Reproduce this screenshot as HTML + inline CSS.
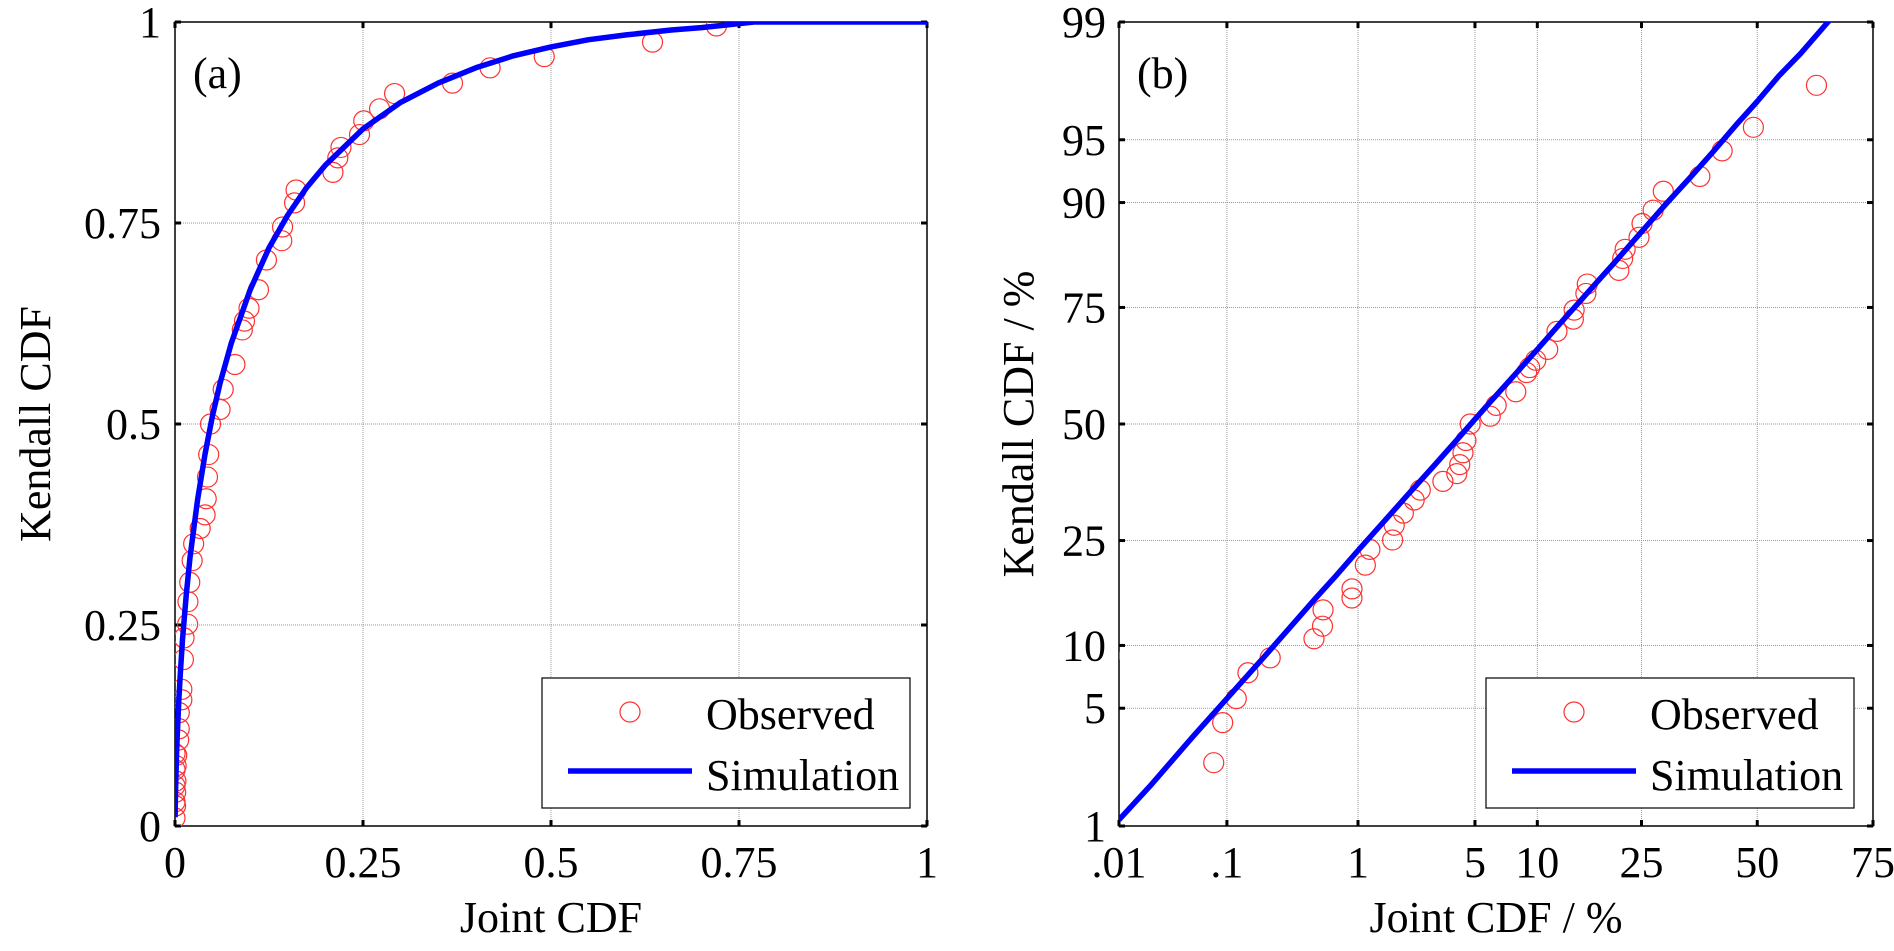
<!DOCTYPE html>
<html><head><meta charset="utf-8"><style>
html,body{margin:0;padding:0;background:#fff}
svg{display:block;font-family:"Liberation Serif",serif}
</style></head><body>
<svg id="fig" width="1894" height="951" viewBox="0 0 1894 951" xmlns="http://www.w3.org/2000/svg">
<defs>
<clipPath id="clipA"><rect x="175" y="22" width="752" height="804"/></clipPath>
<clipPath id="clipB"><rect x="1119" y="22" width="754" height="804"/></clipPath>
</defs>
</svg>
<script>
// Observed points: joint CDF (fraction) and Kendall CDF (fraction)
const obsJoint = [0.00001,0.00002,0.00003,0.00005,0.00008,0.00077,0.00092,0.0012,0.0015,0.00227,0.0049,0.00565,0.0057,0.0091,0.0091,0.0112,0.012,0.0168,0.0172,0.0196,0.0228,0.0248,0.0335,0.040,0.0415,0.0432,0.0448,0.0472,0.0599,0.0641,0.0797,0.0895,0.0924,0.0984,0.111,0.1216,0.142,0.143,0.159,0.161,0.210,0.2165,0.2207,0.2454,0.251,0.272,0.292,0.369,0.419,0.491,0.635,0.72];
const obsKendall = [0.01,0.03,0.05,0.07,0.09,0.025,0.042,0.056,0.075,0.088,0.107,0.121,0.141,0.157,0.17,0.207,0.234,0.251,0.279,0.303,0.33,0.351,0.37,0.387,0.407,0.434,0.462,0.5,0.518,0.543,0.574,0.617,0.628,0.644,0.667,0.704,0.728,0.745,0.775,0.791,0.813,0.831,0.844,0.86,0.877,0.892,0.911,0.924,0.943,0.957,0.975,0.995];
// Simulation curve
const simJoint = [0.0001,0.0002,0.0005,0.001,0.002,0.003,0.005,0.007,0.01,0.015,0.02,0.03,0.04,0.05,0.06,0.075,0.1,0.125,0.15,0.175,0.2,0.25,0.3,0.35,0.4,0.45,0.5,0.55,0.6,0.66,0.7,0.77,1.0];
const simKendall = [0.011,0.018,0.035,0.056,0.088,0.114,0.156,0.189,0.232,0.288,0.334,0.406,0.463,0.511,0.551,0.601,0.667,0.719,0.760,0.794,0.822,0.867,0.900,0.924,0.943,0.958,0.969,0.978,0.984,0.990,0.993,1.0,1.0];
// Tick labels
const aTicks = [0,0.25,0.5,0.75,1];
const aTickLabels = ["0","0.25","0.5","0.75","1"];
const bxTicks = [0.0001,0.001,0.01,0.05,0.1,0.25,0.5,0.75];
const bxTickLabels = [".01",".1","1","5","10","25","50","75"];
const byTicks = [0.01,0.05,0.1,0.25,0.5,0.75,0.9,0.95,0.99];
const byTickLabels = ["1","5","10","25","50","75","90","95","99"];

const NS="http://www.w3.org/2000/svg";
const svg=document.getElementById('fig');
function mk(tag,attrs,parent){const e=document.createElementNS(NS,tag);for(const k in attrs)e.setAttribute(k,attrs[k]);(parent||svg).appendChild(e);return e;}
function norminv(p){
 const a=[-39.69683028665376,220.9460984245205,-275.9285104469687,138.3577518672690,-30.66479806614716,2.506628277459239];
 const b=[-54.47609879822406,161.5858368580409,-155.6989798598866,66.80131188771720,-13.28068155288572];
 const c=[-0.007784894002430293,-0.3223964580411365,-2.400758277161838,-2.549732539343734,4.374664141464968,2.938163982698783];
 const d=[0.007784695709041462,0.3224671290700398,2.445134137142996,3.754408661907416];
 if(p<=0)return -Infinity; if(p>=1)return Infinity;
 const pl=0.02425;let q,r;
 if(p<pl){q=Math.sqrt(-2*Math.log(p));return (((((c[0]*q+c[1])*q+c[2])*q+c[3])*q+c[4])*q+c[5])/((((d[0]*q+d[1])*q+d[2])*q+d[3])*q+1);}
 if(p<=1-pl){q=p-0.5;r=q*q;return (((((a[0]*r+a[1])*r+a[2])*r+a[3])*r+a[4])*r+a[5])*q/(((((b[0]*r+b[1])*r+b[2])*r+b[3])*r+b[4])*r+1);}
 q=Math.sqrt(-2*Math.log(1-p));return -(((((c[0]*q+c[1])*q+c[2])*q+c[3])*q+c[4])*q+c[5])/((((d[0]*q+d[1])*q+d[2])*q+d[3])*q+1);
}
const A={x0:175,x1:927,y0:22,y1:826};
const axA=v=>A.x0+v*(A.x1-A.x0);
const ayA=v=>A.y1-v*(A.y1-A.y0);
const B={x0:1119,x1:1873,y0:22,y1:826};
const zx0=norminv(0.0001),zx1=norminv(0.75),zy0=norminv(0.01),zy1=norminv(0.99);
const bxS=v=>B.x0+(norminv(v)-zx0)/(zx1-zx0)*(B.x1-B.x0);
const byS=v=>B.y1-(norminv(v)-zy0)/(zy1-zy0)*(B.y1-B.y0);

function panel(P,xs,ys,xticks,xlabels,yticks,ylabels,clip,name,tag,xt,yt,ylx,ytx){
 const g=mk('g',{});
 
 
 mk('rect',{x:P.x0,y:P.y0,width:P.x1-P.x0,height:P.y1-P.y0,fill:'#fff'},g);
 xticks.forEach((t,i)=>{const x=xs(t);
  const gl=mk('line',{x1:x,y1:P.y0,x2:x,y2:P.y1,stroke:'#9a9a9a','stroke-width':1,'stroke-dasharray':'1,1'},g);
  
  mk('line',{x1:x,y1:P.y1,x2:x,y2:P.y1-6,stroke:'#000','stroke-width':3},g);
  mk('line',{x1:x,y1:P.y0,x2:x,y2:P.y0+6,stroke:'#000','stroke-width':3},g);
  const tx=mk('text',{x:x,y:877,'font-size':44,'text-anchor':'middle',fill:'#000'},g);tx.textContent=xlabels[i];
  
 });
 yticks.forEach((t,i)=>{const y=ys(t);
  const gl=mk('line',{x1:P.x0,y1:y,x2:P.x1,y2:y,stroke:'#9a9a9a','stroke-width':1,'stroke-dasharray':'1,1'},g);
  
  mk('line',{x1:P.x0,y1:y,x2:P.x0+6,y2:y,stroke:'#000','stroke-width':3},g);
  mk('line',{x1:P.x1,y1:y,x2:P.x1-6,y2:y,stroke:'#000','stroke-width':3},g);
  const tx=mk('text',{x:ytx,y:y+15,'font-size':44,'text-anchor':'end',fill:'#000'},g);tx.textContent=ylabels[i];
  
 });
 mk('rect',{x:P.x0,y:P.y0,width:P.x1-P.x0,height:P.y1-P.y0,fill:'none',stroke:'#000','stroke-width':1.5},g);
 const cg=mk('g',{'clip-path':'url(#'+clip+')'},g);
 obsJoint.forEach((v,i)=>{const cx=xs(v),cy=ys(obsKendall[i]);if(!isFinite(cx)||!isFinite(cy))return;
  const c=mk('circle',{cx:cx,cy:cy,r:10,fill:'none',stroke:'#ff3030','stroke-width':1.2},cg);
  });
 let d='';simJoint.forEach((v,i)=>{const x=xs(v);let y=ys(simKendall[i]);if(!isFinite(x))return;if(!isFinite(y))y=P.y0-50;d+=(d?'L':'M')+x.toFixed(1)+','+y.toFixed(1);});
 const p=mk('path',{d:d,fill:'none',stroke:'#0000ff','stroke-width':5.5,'stroke-linejoin':'round'},cg);
 
 const lt=mk('text',{x:P.x0+18,y:88,'font-size':44,fill:'#000'},g);lt.textContent=tag;
 
 const xl=mk('text',{x:(P.x0+P.x1)/2,y:932,'font-size':44,'text-anchor':'middle',fill:'#000'},g);xl.textContent=xt;
 
 const yl=mk('text',{x:0,y:0,'font-size':44,'text-anchor':'middle',fill:'#000',transform:`translate(${ylx},${(P.y0+P.y1)/2}) rotate(-90)`},g);yl.textContent=yt;
 
 const lx=P.x0+367,lg=mk('g',{},g);
 
 mk('rect',{x:lx,y:678,width:368,height:130,fill:'#fff',stroke:'#000','stroke-width':1.2},lg);
 const le=mk('circle',{cx:lx+88,cy:712,r:10,fill:'none',stroke:'#ff3030','stroke-width':1.2},lg);
 
 const t1=mk('text',{x:lx+164,y:729,'font-size':44,fill:'#000'},lg);t1.textContent='Observed';
 const ll=mk('line',{x1:lx+26,y1:771,x2:lx+150,y2:771,stroke:'#0000ff','stroke-width':5.5},lg);
 
 const t2=mk('text',{x:lx+164,y:790,'font-size':44,fill:'#000'},lg);t2.textContent='Simulation';
}
panel(A,axA,ayA,aTicks,aTickLabels,aTicks,aTickLabels,'clipA','panel-a','(a)','Joint CDF','Kendall CDF',50,161);
panel(B,bxS,byS,bxTicks,bxTickLabels,byTicks,byTickLabels,'clipB','panel-b','(b)','Joint CDF / %','Kendall CDF / %',1033,1106);
</script>
</body></html>
